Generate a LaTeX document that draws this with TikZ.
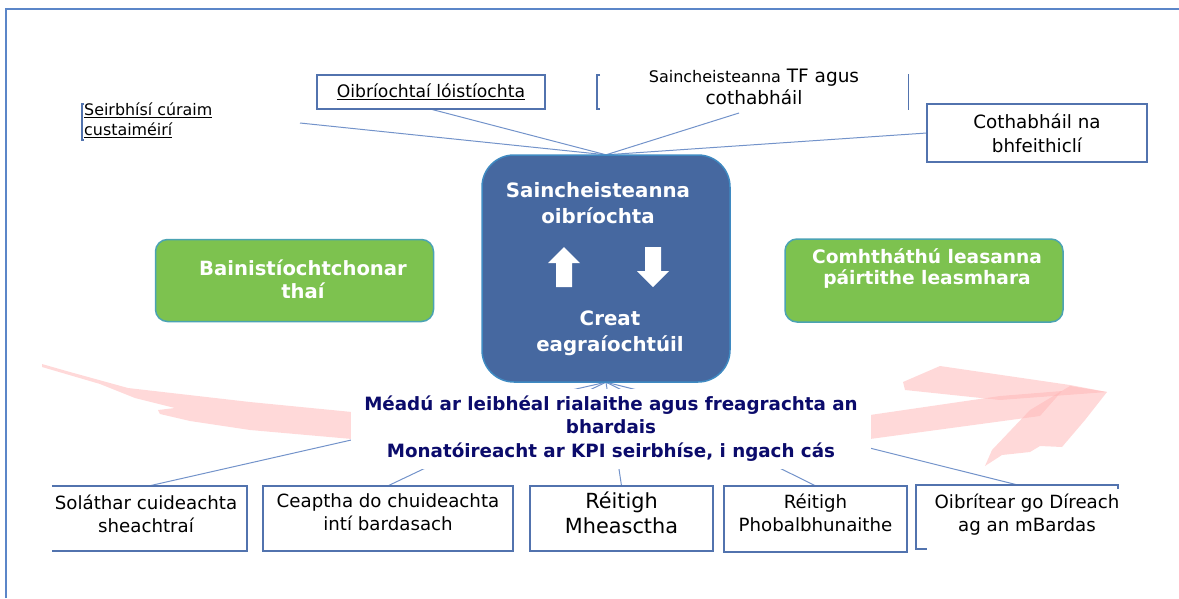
\documentclass[tikz,border=0pt]{standalone}
\usepackage{fontspec}
\setmainfont{DejaVu Sans}
\definecolor{framec}{HTML}{5B86C8}
\definecolor{linec}{HTML}{7393CA}
\definecolor{boxc}{HTML}{5273AE}
\definecolor{coref}{HTML}{4668A0}
\definecolor{coreb}{HTML}{3F8AC2}
\definecolor{greenf}{HTML}{7DC24F}
\definecolor{greenb}{HTML}{4BA3B3}
\definecolor{navy}{HTML}{0B0B6B}
\definecolor{pinkc}{HTML}{FFB4B4}
\begin{document}
\begin{tikzpicture}[x=1pt,y=-1pt,
  conn/.style={draw=linec, line width=1pt},
  edgeline/.style={draw=boxc, line width=2.4pt},
  bbox/.style={draw=boxc, line width=2.4pt, fill=white, inner sep=0pt, align=center},
  nbox/.style={fill=white, inner sep=0pt, align=center},
  gbox/.style={draw=greenb, fill=greenf, line width=1.5pt, rounded corners=12pt, inner sep=0pt},
  gtext/.style={text=white, font=\bfseries\fontsize{19.6}{23}\selectfont, align=center, inner sep=0pt},
  wtext/.style={text=white, font=\bfseries\fontsize{19.8}{26}\selectfont, align=center, inner sep=0pt},
  btext/.style={font=\fontsize{18.2}{23}\selectfont, text depth=12pt},
  pinkfill/.style={fill=pinkc, fill opacity=0.5, draw=none}
]
\useasboundingbox (0,0) rectangle (1179,598);
% frame
\draw[framec, line width=2pt] (6,598) -- (6,9) -- (1179,9);

% pink swooshes
\fill[pinkfill] (42,364) -- (70,372) -- (128,388) -- (250,402) -- (352,412) -- (352,439)
  -- (250,430) -- (190,421) -- (160,414) -- (158,410) -- (175,408) -- (135,398) -- (100,384) -- (42,367) -- cycle;
\fill[pinkfill] (903,382) -- (940,366) -- (1070,385) -- (1107,392) -- (1000,400) -- (905,390) -- cycle;
\fill[pinkfill] (870,415) -- (1000,396) -- (1062,391) -- (1040,416) -- (870,439) -- cycle;
\fill[pinkfill] (1107,392) -- (1085,420) -- (1062,447) -- (1040,446) -- (1030,452) -- (1002,455) -- (985,466)
  -- (992,450) -- (1030,410) -- (1070,386) -- cycle;

% anchor nodes
\coordinate (seirbend) at (300,123);
\coordinate (tfend) at (739,113);
\node[nbox, draw=none, minimum width=248, minimum height=227] (core) at (606,268.5) {};
\node[nbox, minimum width=228, minimum height=34] (oib) at (431,92) {};
\node[nbox, minimum width=220, minimum height=58] (cot) at (1037,133) {};
\node[nbox, minimum width=195, minimum height=65] (b1) at (149.5,518.5) {};
\node[nbox, minimum width=250, minimum height=65] (b2) at (388,518.5) {};
\node[nbox, minimum width=183, minimum height=65] (b3) at (621.5,518.5) {};
\node[nbox, minimum width=183, minimum height=66] (b4) at (815.5,519) {};
\node[nbox, minimum width=202, minimum height=64] (b5) at (1017,517) {};

% connectors
\draw[conn] (core.north) -- (seirbend);
\draw[conn] (core.north) -- (oib.south);
\draw[conn] (core.north) -- (tfend);
\draw[conn] (core.north) -- (cot.west);
\draw[conn] (core.south) -- (b1.north);
\draw[conn] (core.south) -- (b2.north);
\draw[conn] (core.south) -- (b3.north);
\draw[conn] (core.south) -- (b4.north);
\draw[conn] (core.south) -- (b5.north);

% top nodes
\node[inner sep=0pt, anchor=west, align=left, font=\fontsize{15.9}{20}\selectfont] (seirb) at (84,120)
  {\underline{Seirbhísí cúraim}\\\underline{custaiméirí}};
\draw[boxc, line width=2pt] (84,104) -- (82,104) -- (82,140) -- (84,140);
\node[bbox, minimum width=228, minimum height=34, font=\fontsize{17.2}{20}\selectfont] (oibt) at (oib) {\underline{Oibríochtaí lóistíochta}};
\node[inner sep=0pt, align=center, font=\fontsize{18.5}{22}\selectfont] (tf) at (754,87)
  {{\fontsize{16}{22}\selectfont Saincheisteanna} TF agus\\cothabháil};
\draw[boxc, line width=2pt] (600,75) -- (597,75) -- (597,109) -- (600,109);
\draw[boxc, line width=1pt] (908,74) -- (908,110);
\node[bbox, minimum width=220, minimum height=58, font=\fontsize{18.3}{24}\selectfont] (cott) at (cot) {Cothabháil na\\bhfeithiclí};

% core box
\node[draw=coreb, fill=coref, line width=1.5pt, rounded corners=32pt, minimum width=248, minimum height=227, inner sep=0pt] (corebox) at (core) {};
\node[wtext] (c1) at (598,203) {Saincheisteanna\\oibríochta};
\node[wtext] (c2) at (610,333) {Creat\\eagraíochtúil};
\fill[white] (564,247) -- (580,263) -- (572,263) -- (572,287) -- (556,287) -- (556,263) -- (548,263) -- cycle;
\fill[white] (645,247) -- (661,247) -- (661,271) -- (669,271) -- (653,287) -- (637,271) -- (645,271) -- cycle;

% green boxes
\node[gbox, minimum width=278, minimum height=82] (gl) at (294.5,280.5) {};
\node[gtext] (glt) at (303,279) {Bainistíochtchonar\\thaí};
\node[gbox, minimum width=278, minimum height=83] (gr) at (924,280.5) {};
\node[gtext, font=\bfseries\fontsize{18.6}{21.5}\selectfont] (grt) at (927,268.5) {Comhtháthú leasanna\\páirtithe leasmhara};

% navy text
\node[fill=white, minimum width=520, minimum height=80, inner sep=0pt, align=center, text=navy,
  font=\bfseries\fontsize{18.3}{23.5}\selectfont] (mead) at (611,428.5)
  {Méadú ar leibhéal rialaithe agus freagrachta an\\bhardais\\Monatóireacht ar KPI seirbhíse, i ngach cás};

% bottom boxes
\node[nbox, btext, minimum width=195, minimum height=65] (b1t) at (146,519.5) {Soláthar cuideachta\\sheachtraí};
\draw[edgeline] (b1.north west) -- (b1.north east) -- (b1.south east) -- (b1.south west);
\node[bbox, btext, minimum width=250, minimum height=65] (b2t) at (b2) {Ceaptha do chuideachta\\intí bardasach};
\node[bbox, btext, font=\fontsize{20.8}{25}\selectfont, minimum width=183, minimum height=65] (b3t) at (b3) {Réitigh\\Mheasctha};
\node[bbox, btext, minimum width=183, minimum height=66] (b4t) at (b4) {Réitigh\\Phobalbhunaithe};
\node[nbox, btext, fill=none, text depth=10pt] (b5t) at (1027,518) {Oibrítear go Díreach\\ag an mBardas};
\draw[edgeline] (b5.north east) ++(0,4) -- (b5.north east) -- (b5.north west) -- (b5.south west) -- ++(11,0);
\end{tikzpicture}
\end{document}
